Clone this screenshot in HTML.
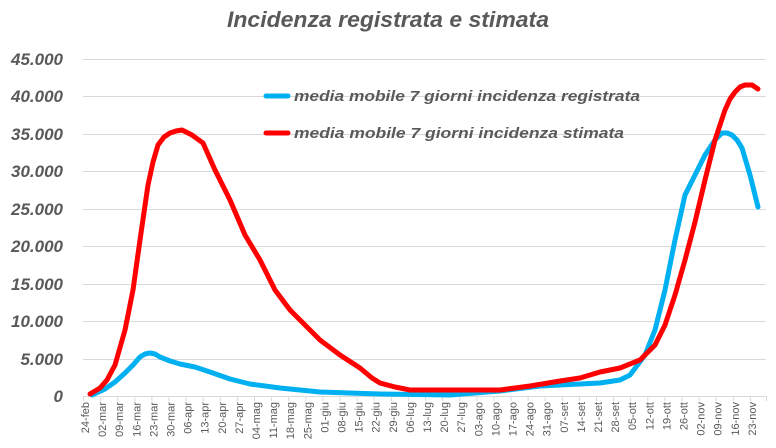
<!DOCTYPE html>
<html><head><meta charset="utf-8"><style>
html,body{margin:0;padding:0;background:#fff;}
svg{display:block;font-family:"Liberation Sans",sans-serif;}
</style></head><body>
<svg width="776" height="448" viewBox="0 0 776 448">
<rect width="776" height="448" fill="#fff"/>
<text x="388" y="27" text-anchor="middle" font-size="22" font-weight="bold" font-style="italic" fill="#595959" textLength="322" lengthAdjust="spacingAndGlyphs">Incidenza registrata e stimata</text>
<g stroke="#d9d9d9" stroke-width="1">
<line x1="83" x2="766" y1="59.5" y2="59.5"/>
<line x1="83" x2="766" y1="96.5" y2="96.5"/>
<line x1="83" x2="766" y1="134.5" y2="134.5"/>
<line x1="83" x2="766" y1="171.5" y2="171.5"/>
<line x1="83" x2="766" y1="209.5" y2="209.5"/>
<line x1="83" x2="766" y1="246.5" y2="246.5"/>
<line x1="83" x2="766" y1="284.5" y2="284.5"/>
<line x1="83" x2="766" y1="321.5" y2="321.5"/>
<line x1="83" x2="766" y1="359.5" y2="359.5"/>
<line x1="83" x2="766" y1="396.5" y2="396.5"/>
<path d="M83.5,396V401M100.6,396V401M117.7,396V401M134.8,396V401M151.9,396V401M169,396V401M186.1,396V401M203.2,396V401M220.3,396V401M237.4,396V401M254.5,396V401M271.6,396V401M288.7,396V401M305.8,396V401M322.9,396V401M340,396V401M357.1,396V401M374.2,396V401M391.3,396V401M408.4,396V401M425.5,396V401M442.6,396V401M459.7,396V401M476.8,396V401M493.9,396V401M511,396V401M528.1,396V401M545.2,396V401M562.3,396V401M579.4,396V401M596.5,396V401M613.6,396V401M630.7,396V401M647.8,396V401M664.9,396V401M682,396V401M699.1,396V401M716.2,396V401M733.3,396V401M750.4,396V401M766.5,396V401"/>
</g>
<g font-size="17" font-weight="bold" font-style="italic" fill="#595959" text-anchor="end">
<text x="63" y="65">45.000</text>
<text x="63" y="102">40.000</text>
<text x="63" y="140">35.000</text>
<text x="63" y="177">30.000</text>
<text x="63" y="215">25.000</text>
<text x="63" y="252">20.000</text>
<text x="63" y="290">15.000</text>
<text x="63" y="327">10.000</text>
<text x="63" y="365">5.000</text>
<text x="63" y="402">0</text>
</g>
<g font-size="11" fill="#595959" text-anchor="end">
<text transform="translate(89,402) rotate(-90)">24-feb</text>
<text transform="translate(106.1,402) rotate(-90)">02-mar</text>
<text transform="translate(123.2,402) rotate(-90)">09-mar</text>
<text transform="translate(140.3,402) rotate(-90)">16-mar</text>
<text transform="translate(157.4,402) rotate(-90)">23-mar</text>
<text transform="translate(174.5,402) rotate(-90)">30-mar</text>
<text transform="translate(191.6,402) rotate(-90)">06-apr</text>
<text transform="translate(208.7,402) rotate(-90)">13-apr</text>
<text transform="translate(225.8,402) rotate(-90)">20-apr</text>
<text transform="translate(242.9,402) rotate(-90)">27-apr</text>
<text transform="translate(260,402) rotate(-90)">04-mag</text>
<text transform="translate(277.1,402) rotate(-90)">11-mag</text>
<text transform="translate(294.2,402) rotate(-90)">18-mag</text>
<text transform="translate(311.3,402) rotate(-90)">25-mag</text>
<text transform="translate(328.4,402) rotate(-90)">01-giu</text>
<text transform="translate(345.5,402) rotate(-90)">08-giu</text>
<text transform="translate(362.6,402) rotate(-90)">15-giu</text>
<text transform="translate(379.7,402) rotate(-90)">22-giu</text>
<text transform="translate(396.8,402) rotate(-90)">29-giu</text>
<text transform="translate(413.9,402) rotate(-90)">06-lug</text>
<text transform="translate(431,402) rotate(-90)">13-lug</text>
<text transform="translate(448.1,402) rotate(-90)">20-lug</text>
<text transform="translate(465.2,402) rotate(-90)">27-lug</text>
<text transform="translate(482.3,402) rotate(-90)">03-ago</text>
<text transform="translate(499.4,402) rotate(-90)">10-ago</text>
<text transform="translate(516.5,402) rotate(-90)">17-ago</text>
<text transform="translate(533.6,402) rotate(-90)">24-ago</text>
<text transform="translate(550.7,402) rotate(-90)">31-ago</text>
<text transform="translate(567.8,402) rotate(-90)">07-set</text>
<text transform="translate(584.9,402) rotate(-90)">14-set</text>
<text transform="translate(602,402) rotate(-90)">21-set</text>
<text transform="translate(619.1,402) rotate(-90)">28-set</text>
<text transform="translate(636.2,402) rotate(-90)">05-ott</text>
<text transform="translate(653.3,402) rotate(-90)">12-ott</text>
<text transform="translate(670.4,402) rotate(-90)">19-ott</text>
<text transform="translate(687.5,402) rotate(-90)">26-ott</text>
<text transform="translate(704.6,402) rotate(-90)">02-nov</text>
<text transform="translate(721.7,402) rotate(-90)">09-nov</text>
<text transform="translate(738.8,402) rotate(-90)">16-nov</text>
<text transform="translate(755.9,402) rotate(-90)">23-nov</text>
</g>
<polyline fill="none" stroke="#00b0f0" stroke-width="5" stroke-linejoin="round" stroke-linecap="round" points="92,395 105,389 115,382 125,373 133,365 140,357 145,354 150,353 155,354 160,357 170,361 180,364 195,367 210,372 230,379 250,384 280,388 320,392 380,394 450,395 500,391 540,386 580,384 600,383 620,380 630,375 645,355 655,330 665,290 675,240 685,195 695,175 705,155 715,140 722,133 727,133 732,135 737,140 742,148 750,175 758,207"/>
<polyline fill="none" stroke="#ff0000" stroke-width="5" stroke-linejoin="round" stroke-linecap="round" points="90,394 100,388 107,380 115,365 125,330 133,290 140,240 148,185 153,162 158,145 164,137 170,133 176,131 182,130 192,135 203,143 215,170 230,200 245,235 260,260 275,290 290,310 305,325 320,340 340,355 360,368 372,378 380,383 395,387 410,390 500,390 530,386 560,381 580,378 600,372 620,368 640,360 655,345 665,325 675,295 685,260 695,222 705,180 715,140 725,110 730,99 735,92 740,87 745,85 752,85 758,89"/>
<line x1="266" x2="288" y1="96" y2="96" stroke="#00b0f0" stroke-width="5" stroke-linecap="round"/>
<line x1="266" x2="288" y1="133" y2="133" stroke="#ff0000" stroke-width="5" stroke-linecap="round"/>
<g font-size="15" font-weight="bold" font-style="italic" fill="#595959">
<text x="294" y="101" textLength="346" lengthAdjust="spacingAndGlyphs">media mobile 7 giorni incidenza registrata</text>
<text x="294" y="138" textLength="330" lengthAdjust="spacingAndGlyphs">media mobile 7 giorni incidenza stimata</text>
</g>
</svg>
</body></html>
